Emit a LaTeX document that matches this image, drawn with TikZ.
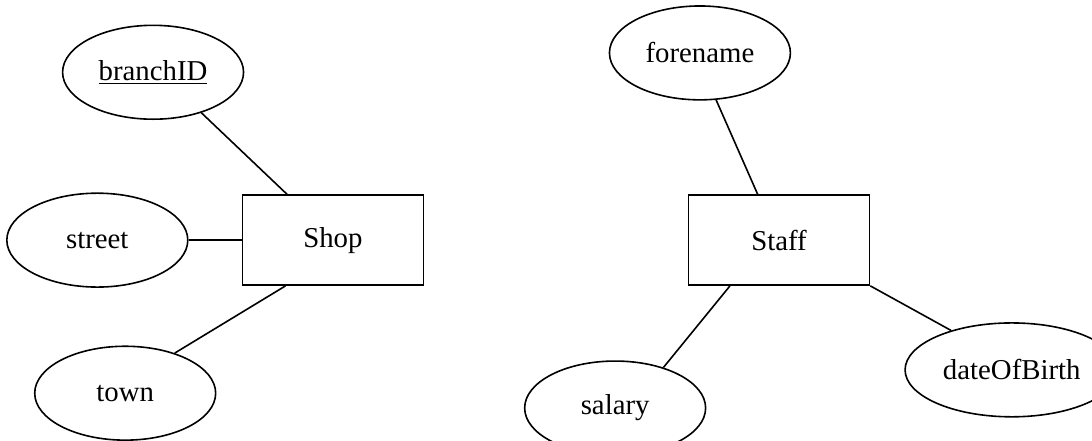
\documentclass[tikz,border=0pt]{standalone}
\usepackage{fontspec}
\setmainfont{Liberation Serif}
\usetikzlibrary{shapes.geometric}

\begin{document}
\begin{tikzpicture}[
  entity/.style={rectangle, draw, line width=0.8pt,
    minimum width=3.18cm, minimum height=1.58cm,
    font=\fontsize{14.4}{17}\selectfont},
  attr/.style={ellipse, draw, line width=0.8pt,
    minimum width=3.18cm, minimum height=1.65cm,
    font=\fontsize{14.4}{17}\selectfont},
  link/.style={line width=0.8pt}
]
  \useasboundingbox (0,0) rectangle (19.19,-7.75);

  % Entities
  \node[entity] (Shop)  at (5.85,-4.22)  {Shop};
  \node[entity] (Staff) at (13.69,-4.22) {Staff};

  % Attributes of Shop
  \node[attr] (branchID) at (2.69,-1.27) {\underline{branchID}};
  \node[attr] (street)   at (1.71,-4.22) {street};
  \node[attr] (town)     at (2.20,-6.91) {town};

  % Attributes of Staff
  \node[attr] (forename)    at (12.30,-0.93) {forename};
  \node[attr] (salary)      at (10.81,-7.17) {salary};
  \node[attr] (dateOfBirth) at (17.78,-6.50) {dateOfBirth};

  % Connections
  \draw[link] (branchID.320) -- (Shop.135);
  \draw[link] (street) -- (Shop);
  \draw[link] (town.39) -- (Shop.224);
  \draw[link] (forename.289) -- (Staff.115);
  \draw[link] (salary.40) -- (Staff.223);
  \draw[link] (dateOfBirth.147) -- (Staff.south east);
\end{tikzpicture}
\end{document}
